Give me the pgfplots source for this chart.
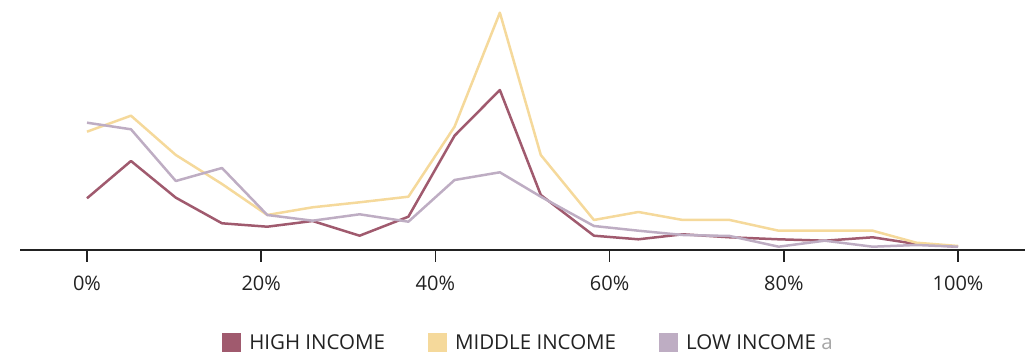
\documentclass[border=0pt]{standalone}
\usepackage{pgfplots}
\pgfplotsset{compat=1.18}
\usepackage{fontspec}
\setmainfont{Open Sans}
\definecolor{highc}{HTML}{A05A6E}
\definecolor{midc}{HTML}{F5D99B}
\definecolor{lowc}{HTML}{BEADC3}
\definecolor{axc}{HTML}{222222}
\begin{document}
\begin{tikzpicture}
\useasboundingbox (-20pt,-105pt) rectangle (1011pt,250pt);
\begin{axis}[
  at={(0,0)}, anchor=south west,
  scale only axis,
  width=1005pt, height=250pt,
  xmin=-7.69, xmax=107.69,
  ymin=0, ymax=250,
  axis x line*=bottom,
  axis y line=none,
  axis line style={axc, line width=2pt, -},
  xtick={0,20,40,60,80,100},
  xticklabel={\pgfmathprintnumber{\tick}\%},
  /pgf/number format/assume math mode=true,
  xtick align=outside,
  major tick length=12pt,
  tick style={axc, line width=1.5pt},
  xticklabel style={font=\fontsize{20}{24}\selectfont, text=axc, anchor=center, yshift=-21pt},
  clip=false,
  legend columns=3,
  legend style={draw=none, fill=none, at={(0.5,-0.37)}, anchor=center, xshift=6pt,
    font=\fontsize{20.5}{24}\selectfont, text=axc,
    /tikz/every odd column/.append style={column sep=6pt},
    /tikz/every even column/.append style={column sep=41pt}},
  legend image code/.code={\fill[draw=none] (0pt,-9.5pt) rectangle (19pt,9.5pt);},
  every axis plot/.append style={line width=2.5pt, line join=round},
]
\addplot[color=highc] coordinates {
(0,51.7) (5.05,89) (10.2,52.3) (15.5,26.7) (20.7,23.3) (25.9,29) (31.3,14.3) (36.9,33.3)
(42.2,114.3) (47.4,160) (52.1,55) (58.2,14.3) (63.3,10.7) (68.4,15.7) (73.8,12.7)
(79.4,10.7) (84.7,9.3) (90.2,12.7) (95.2,6) (100,3.3)};
\addlegendentry{HIGH INCOME}
\addplot[color=midc] coordinates {
(0,118.3) (5.05,134.3) (10.2,95) (15.5,66) (20.7,35) (25.9,42.7) (31.3,47.7) (36.9,53.3)
(42.2,123.3) (47.4,237.3) (52.1,95) (58.2,30) (63.3,38) (68.4,30) (73.8,30)
(79.4,19.3) (84.7,19.3) (90.2,19.3) (95.2,7.3) (100,4)};
\addlegendentry{MIDDLE INCOME}
\addplot[color=lowc] coordinates {
(0,127.3) (5.05,120.7) (10.2,69) (15.5,82) (20.7,35) (25.9,29.3) (31.3,35.7) (36.9,28.3)
(42.2,70) (47.4,77.7) (52.1,53.3) (58.2,24) (63.3,19.3) (68.4,15) (73.8,14)
(79.4,3.3) (84.7,9.3) (90.2,3.3) (95.2,5) (100,3.3)};
\addlegendentry{LOW INCOME \textcolor{gray!70}{a}}
\end{axis}
\end{tikzpicture}
\end{document}
